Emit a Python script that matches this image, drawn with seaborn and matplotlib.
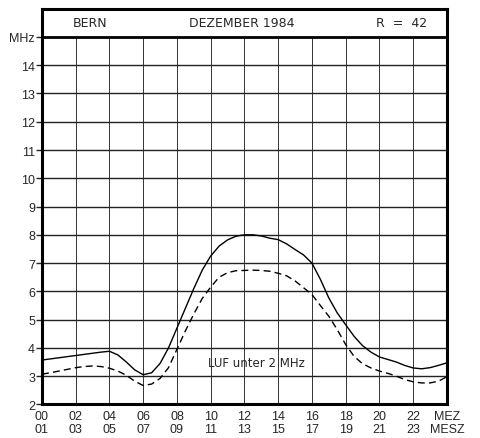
import matplotlib
matplotlib.use("Agg")
import matplotlib.pyplot as plt
import pandas as pd
import seaborn as sns

# values every half hour (MEZ)
hours = [0, 0.5, 1, 1.5, 2, 2.5, 3, 3.5, 4, 4.5, 5, 5.5, 6, 6.5, 7, 7.5, 8, 8.5,
         9, 9.5, 10, 10.5, 11, 11.5, 12, 12.5, 13, 13.5, 14, 14.5, 15, 15.5, 16,
         16.5, 17, 17.5, 18, 18.5, 19, 19.5, 20, 20.5, 21, 21.5, 22, 22.5, 23,
         23.5, 24]
muf = [3.57, 3.61, 3.65, 3.69, 3.73, 3.77, 3.81, 3.85, 3.88, 3.75, 3.5, 3.22,
       3.05, 3.12, 3.45, 4.0, 4.7, 5.4, 6.1, 6.75, 7.25, 7.6, 7.82, 7.95, 8.0,
       8.0, 7.96, 7.88, 7.83, 7.68, 7.48, 7.29, 7.0, 6.43, 5.77, 5.24, 4.82,
       4.41, 4.08, 3.85, 3.68, 3.59, 3.5, 3.38, 3.29, 3.26, 3.3, 3.38, 3.47]
fot = [3.07, 3.12, 3.18, 3.24, 3.3, 3.34, 3.36, 3.34, 3.28, 3.18, 3.03, 2.82,
       2.67, 2.72, 2.92, 3.3, 3.95, 4.6, 5.2, 5.75, 6.15, 6.5, 6.66, 6.73, 6.74,
       6.75, 6.74, 6.71, 6.64, 6.55, 6.37, 6.13, 5.89, 5.5, 5.12, 4.65, 4.12,
       3.7, 3.44, 3.29, 3.18, 3.1, 3.0, 2.88, 2.8, 2.76, 2.76, 2.82, 2.98]

mez_labels = ["00", "02", "04", "06", "08", "10", "12", "14", "16", "18", "20", "22"]
mesz_labels = ["01", "03", "05", "07", "09", "11", "13", "15", "17", "19", "21", "23"]
y_ticks = list(range(2, 15))

sns.set_style("white")
plt.rcParams["font.family"] = ["Liberation Sans", "DejaVu Sans"]

df = pd.DataFrame({"Stunde": hours + hours,
                   "MHz": muf + fot,
                   "Kurve": ["MUF"] * len(hours) + ["FOT"] * len(hours)})

fig = plt.figure(figsize=(4.81, 4.39), dpi=100)
ax = fig.add_axes([0.0873, 0.0765, 0.8417, 0.9015])

# grid: vertical lines stop at the header box
ax.vlines(range(2, 24, 2), 2, 15, color="#333333", lw=0.7, zorder=1)
for y in range(3, 15):
    ax.axhline(y, color="#222222", lw=1.0, zorder=1)
ax.axhline(15, color="black", lw=2.0, zorder=3)

sns.lineplot(data=df, x="Stunde", y="MHz", style="Kurve",
             dashes={"MUF": "", "FOT": (5, 3)}, color="black", lw=1.0,
             legend=False, ax=ax, zorder=2)

ax.set_xlim(0, 24)
ax.set_ylim(2, 16)
for s in ax.spines.values():
    s.set_linewidth(2.2)
    s.set_color("black")

ax.set_yticks(y_ticks + [15])
ax.set_yticklabels([str(v) for v in y_ticks] + ["MHz"], fontsize=9)
ax.set_xticks(list(range(0, 24, 2)) + [24])
ax.set_xticklabels([a + "\n" + b for a, b in zip(mez_labels, mesz_labels)] + ["MEZ\nMESZ"],
                   fontsize=9, linespacing=1.1)
ax.tick_params(axis="y", length=4, width=1, pad=1, left=True)
ax.tick_params(axis="x", length=0, pad=4)
ax.set_xlabel("")
ax.set_ylabel("")

hdr = dict(fontsize=9, family="DejaVu Sans", va="center", ha="center")
ax.text(2.85, 15.5, "BERN", **hdr)
ax.text(11.85, 15.5, "DEZEMBER 1984", **hdr)
ax.text(21.3, 15.5, "R  =  42", **hdr)
ax.text(12.7, 3.5, "LUF unter 2 MHz", fontsize=8.5, family="DejaVu Sans",
        va="center", ha="center")

fig.savefig("out.png", dpi=100)
